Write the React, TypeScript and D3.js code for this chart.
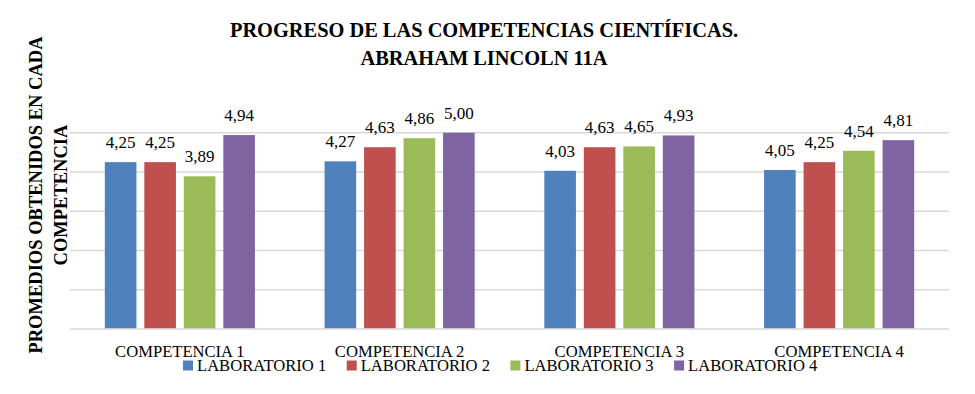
import React from 'react';
import { scaleBand, scaleLinear, range } from 'd3';

// categories and series
const categories = ['COMPETENCIA 1', 'COMPETENCIA 2', 'COMPETENCIA 3', 'COMPETENCIA 4'];
const seriesNames = ['LABORATORIO 1', 'LABORATORIO 2', 'LABORATORIO 3', 'LABORATORIO 4'];
const lab1 = [4.25, 4.27, 4.03, 4.05];
const lab2 = [4.25, 4.63, 4.63, 4.25];
const lab3 = [3.89, 4.86, 4.65, 4.54];
const lab4 = [4.94, 5.0, 4.93, 4.81];
const yTicks = [0, 1, 2, 3, 4, 5];
const titleLines = ['PROGRESO DE LAS COMPETENCIAS CIENTÍFICAS.', 'ABRAHAM LINCOLN 11A'];
const yTitleLines = ['PROMEDIOS OBTENIDOS EN CADA', 'COMPETENCIA'];

const colors = ['#4F81BD', '#C0504D', '#9BBB59', '#8064A2'];

const dims = {
  width: 975,
  height: 394,
  left: 70,
  right: 949,
  top: 132.7,
  bottom: 329
};

const FONT = '"Liberation Serif", "Times New Roman", serif';

const fmt = (v: number) => v.toFixed(2).replace('.', ',');

export default function App() {
  const { width, height, left, right, top, bottom } = dims;
  const series = [lab1, lab2, lab3, lab4];

  const x0 = scaleBand<string>()
    .domain(categories)
    .range([left, right])
    .paddingInner(0.281)
    .paddingOuter(0.1405);

  const x1 = scaleBand<string>()
    .domain(seriesNames)
    .range([0, x0.bandwidth()])
    .paddingInner(0.2)
    .paddingOuter(0.1);

  const y = scaleLinear().domain([0, 5]).range([bottom, top]);

  const legendStart = 183;
  const legendStep = 163.7;

  return (
    <svg
      width={width}
      height={height}
      style={{ position: 'absolute', left: 0, top: 0, background: '#fff' }}
      fontFamily={FONT}
    >
      <rect width={width} height={height} fill="#fff" />

      {/* title */}
      {titleLines.map((t, i) => (
        <text
          key={t}
          x={484}
          y={36.5 + i * 28}
          textAnchor="middle"
          fontWeight="bold"
          fontSize={20.4}
          fill="#000"
        >
          {t}
        </text>
      ))}

      {/* y axis title */}
      <g transform="translate(0, 195) rotate(-90)">
        {yTitleLines.map((t, i) => (
          <text
            key={t}
            x={0}
            y={42 + i * 24.5}
            textAnchor="middle"
            fontWeight="bold"
            fontSize={18.5}
            fill="#000"
          >
            {t}
          </text>
        ))}
      </g>

      {/* gridlines */}
      {yTicks.map(t => (
        <line
          key={t}
          x1={left}
          x2={right}
          y1={y(t)}
          y2={y(t)}
          stroke="#D9D9D9"
          strokeWidth={1.6}
        />
      ))}

      {/* bars + labels */}
      {categories.map((c, ci) => (
        <g key={c} transform={`translate(${x0(c)}, 0)`}>
          {seriesNames.map((s, si) => {
            const v = series[si][ci];
            const bx = x1(s) as number;
            return (
              <g key={s}>
                <rect
                  x={bx}
                  y={y(v)}
                  width={x1.bandwidth()}
                  height={y(0) - y(v) - 0.8}
                  fill={colors[si]}
                />
                <text
                  x={bx + x1.bandwidth() / 2}
                  y={y(v) - 14}
                  textAnchor="middle"
                  fontSize={17}
                  fill="#000"
                >
                  {fmt(v)}
                </text>
              </g>
            );
          })}
        </g>
      ))}

      {/* category labels */}
      {categories.map(c => (
        <text
          key={c}
          x={(x0(c) as number) + x0.bandwidth() / 2}
          y={357}
          textAnchor="middle"
          fontSize={16.6}
          fill="#000"
        >
          {c}
        </text>
      ))}

      {/* legend */}
      {range(seriesNames.length).map(i => (
        <g key={seriesNames[i]} transform={`translate(${legendStart + i * legendStep}, 0)`}>
          <rect x={0} y={360.5} width={10} height={10} fill={colors[i]} />
          <text x={14} y={371} fontSize={16.6} fill="#000">
            {seriesNames[i]}
          </text>
        </g>
      ))}
    </svg>
  );
}
